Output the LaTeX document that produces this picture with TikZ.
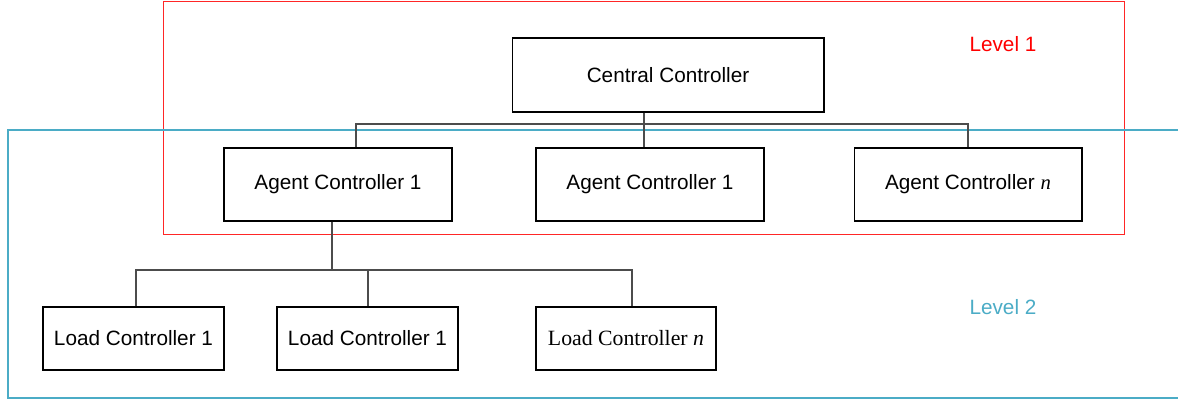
\documentclass[tikz,border=0pt]{standalone}
\usepackage{fontspec}
\setmainfont{Liberation Sans}
\newfontfamily\timesfont{Liberation Serif}
\definecolor{levelred}{RGB}{255,0,0}
\definecolor{levelblue}{RGB}{75,172,198}

\begin{document}
\begin{tikzpicture}[x=0.02cm,y=-0.02cm,
    font=\fontsize{11.8}{14}\selectfont,
    box/.style={draw,line width=0.6pt,inner sep=0pt},
    agentbox/.style={box,minimum width=4.56cm,minimum height=1.46cm},
    loadbox/.style={box,minimum width=3.62cm,minimum height=1.26cm},
    conn/.style={draw=black!70,line width=0.6pt}]
      \useasboundingbox (0,0) rectangle (1178,402);
      % level frames
      \draw[levelred!85,line width=0.55pt] (163,1) rectangle (1124,234);
      \draw[levelblue,line width=0.7pt] (1178,130) -- (8,130) -- (8,398) -- (1178,398);
      \node[levelred] (lvl1) at (1003,44) {Level 1};
      \node[levelblue] (lvl2) at (1003,307) {Level 2};
      % controllers
      \node[box,minimum width=6.24cm,minimum height=1.48cm] (cc) at (668,75) {Central Controller};
      \node[agentbox] (a1) at (338,184.5) {Agent Controller 1};
      \node[agentbox] (a2) at (650,184.5) {Agent Controller 1};
      \node[agentbox] (an) at (968,184.5) {Agent Controller {\timesfont\itshape n}};
      \node[loadbox] (l1) at (133.5,338.5) {Load Controller 1};
      \node[loadbox] (l2) at (367.5,338.5) {Load Controller 1};
      \node[loadbox,minimum width=3.6cm] (ln) at (626,338.5) {\timesfont\fontsize{12.4}{14}\selectfont Load Controller \itshape n};
      % buses
      \coordinate (bus1) at (644,124);
      \coordinate (t1) at (356,124);
      \coordinate (t3) at (968,124);
      \coordinate (bus2) at (332,270);
      \coordinate (s1) at (136,270);
      \coordinate (s2) at (368,270);
      \coordinate (s3) at (632,270);
      \draw[conn] (bus1 |- cc.south) -- (bus1);
      \draw[conn] (t1 |- a1.north) -- (t1) -- (t3) -- (t3 |- an.north);
      \draw[conn] (bus1) -- (bus1 |- a2.north);
      \draw[conn] (bus2 |- a1.south) -- (bus2);
      \draw[conn] (s1 |- l1.north) -- (s1) -- (s3) -- (s3 |- ln.north);
      \draw[conn] (s2) -- (s2 |- l2.north);
\end{tikzpicture}
\end{document}
